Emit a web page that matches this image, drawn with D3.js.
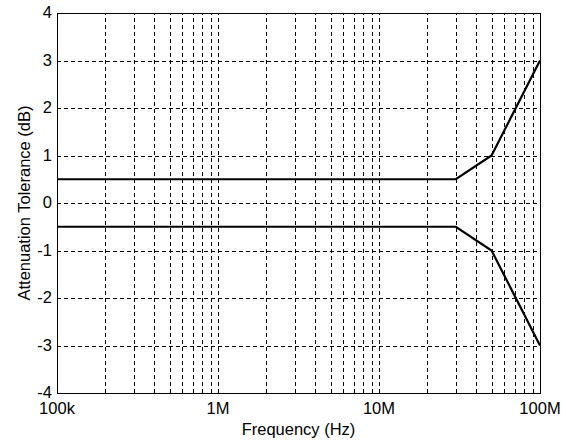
<!DOCTYPE html>
<html>
<head>
<meta charset="utf-8">
<script src="https://cdn.jsdelivr.net/npm/d3@7"></script>
<style>
  body { margin: 0; background: #fff; }
  text { font-family: "Liberation Sans", Arial, sans-serif; }
</style>
</head>
<body>
<svg width="566" height="440"></svg>
<script>
// data
var freqs = [1e5, 3e7, 5e7, 1e8];
var upper = [0.5, 0.5, 1, 3];
var lower = [-0.5, -0.5, -1, -3];
var xTicks = [1e5, 1e6, 1e7, 1e8];
var xTickLabels = ['100k', '1M', '10M', '100M'];
var yTicks = [-4, -3, -2, -1, 0, 1, 2, 3, 4];

var margin = { left: 57, right: 26, top: 13, bottom: 47 };
var width = 566, height = 440;
var fs = 16.5;
var svg = d3.select('svg');

var x = d3.scaleLog()
  .domain([1e5, 1e8])
  .range([margin.left, width - margin.right]);
var y = d3.scaleLinear()
  .domain([-4, 4])
  .range([height - margin.bottom, margin.top]);

// minor log grid positions
var gridX = [];
for (var e = 5; e < 8; e++) {
  for (var k = 1; k < 10; k++) {
    gridX.push(k * Math.pow(10, e));
  }
}

var grid = svg.append('g').attr('stroke', '#000').attr('stroke-width', 1)
  .attr('stroke-dasharray', '4,3');
grid.selectAll('line.vx')
  .data(gridX.filter(function (d) { return d > 1e5; }))
  .enter()
  .append('line')
  .attr('x1', function (d) { return Math.round(x(d)) + 0.5; })
  .attr('x2', function (d) { return Math.round(x(d)) + 0.5; })
  .attr('y1', y(-4))
  .attr('y2', y(4));
grid.selectAll('line.hy')
  .data(yTicks.filter(function (d) { return d > -4 && d < 4; }))
  .enter()
  .append('line')
  .attr('x1', x(1e5))
  .attr('x2', x(1e8))
  .attr('y1', function (d) { return Math.round(y(d)) + 0.5; })
  .attr('y2', function (d) { return Math.round(y(d)) + 0.5; });

// frame
svg.append('rect')
  .attr('x', x(1e5) + 0.5)
  .attr('y', y(4) + 0.5)
  .attr('width', x(1e8) - x(1e5))
  .attr('height', y(-4) - y(4))
  .attr('fill', 'none')
  .attr('stroke', '#000')
  .attr('stroke-width', 1);

// y tick labels
svg.append('g')
  .selectAll('text')
  .data(yTicks)
  .enter()
  .append('text')
  .attr('x', x(1e5) - 5)
  .attr('y', function (d) { return y(d) + 5; })
  .attr('text-anchor', 'end')
  .attr('font-size', fs)
  .text(function (d) { return d; });

// x tick labels
svg.append('g')
  .selectAll('text')
  .data(xTicks)
  .enter()
  .append('text')
  .attr('x', function (d) { return x(d); })
  .attr('y', y(-4) + 21)
  .attr('text-anchor', 'middle')
  .attr('font-size', fs)
  .text(function (d, i) { return xTickLabels[i]; });

svg.append('text')
  .attr('x', (x(1e5) + x(1e8)) / 2)
  .attr('y', 435)
  .attr('text-anchor', 'middle')
  .attr('font-size', fs)
  .text('Frequency (Hz)');

svg.append('text')
  .attr('transform', 'translate(30,' + y(0) + ') rotate(-90)')
  .attr('text-anchor', 'middle')
  .attr('font-size', fs)
  .text('Attenuation Tolerance (dB)');

var line = d3.line()
  .x(function (d) { return x(d[0]); })
  .y(function (d) { return y(d[1]); });

[upper, lower].forEach(function (s) {
  svg.append('path')
    .datum(freqs.map(function (f, i) { return [f, s[i]]; }))
    .attr('d', line)
    .attr('fill', 'none')
    .attr('stroke', '#000')
    .attr('stroke-width', 2.2);
});
</script>
</body>
</html>
